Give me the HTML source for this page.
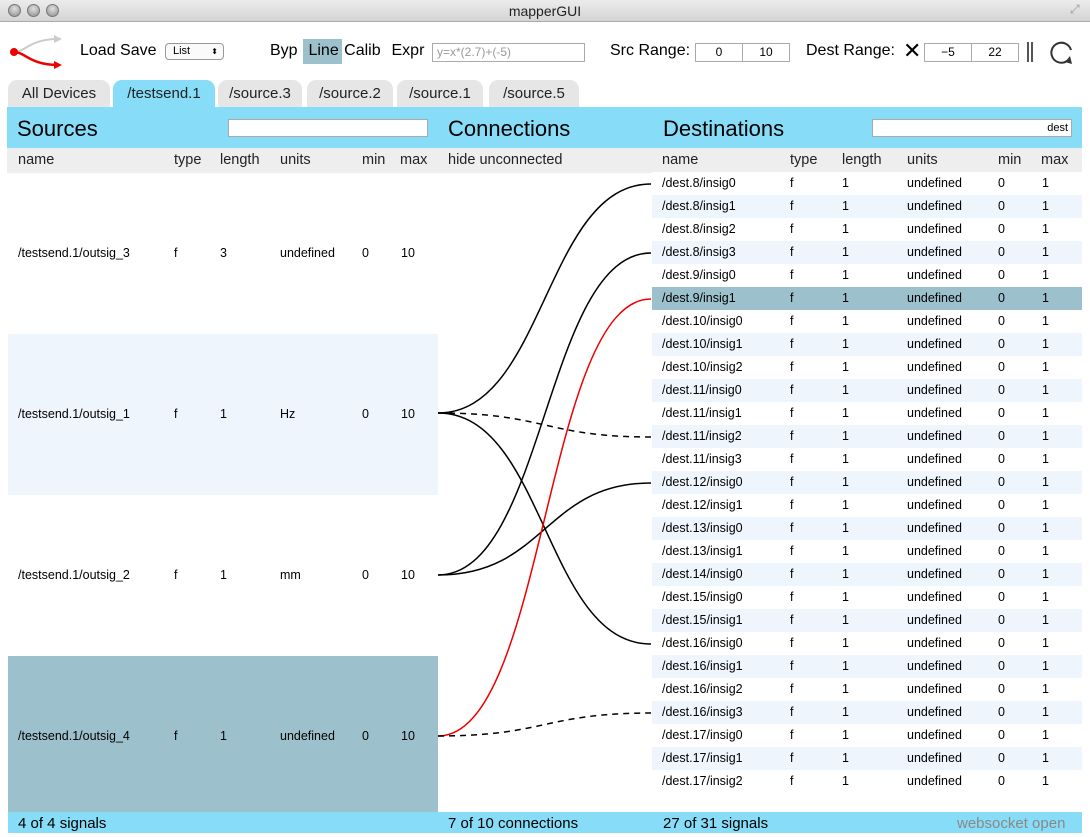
<!DOCTYPE html>
<html><head><meta charset="utf-8"><style>
*{margin:0;padding:0;box-sizing:border-box}
body{width:1090px;height:837px;background:#fff;font-family:"Liberation Sans",sans-serif;position:relative;overflow:hidden;color:#000}
.a{position:absolute;white-space:nowrap}
.tb{left:0;top:0;width:1090px;height:22px;background:linear-gradient(#ececec,#d4d4d4);border-bottom:1px solid #aaa}
.dot{width:13px;height:13px;border-radius:50%;background:radial-gradient(circle at 50% 35%,#e0e0e0,#8c8c8c);border:1px solid #777;top:4px}
.tab{top:80px;height:27px;background:#e6e6e6;border-radius:9px 9px 0 0;font-size:15px;text-align:center;line-height:28px;color:#222}
.inp{border:1px solid #aaa;background:#fff;height:19px;font-size:12px;text-align:center;line-height:17px}
.row{position:absolute;height:23px;font-size:12.5px;line-height:23px}
.row span{position:absolute}
.h{font-size:14.5px;color:#222}
</style></head><body>
<div class="a tb"></div>
<div class="a dot" style="left:8px"></div><div class="a dot" style="left:27px"></div><div class="a dot" style="left:46px"></div>
<div class="a" style="left:0;width:1090px;top:3px;text-align:center;font-size:14px;color:#222">mapperGUI</div>
<div class="a" style="left:1070px;top:2px;font-size:12px;color:#999">⤢</div>

<svg class="a" style="left:10px;top:34px" width="52" height="36">
<path d="M4 18 C15 18 20 5 48 5" stroke="#ccc" stroke-width="2" fill="none"/><path d="M44 1 L52 5 L44 9Z" fill="#ccc"/>
<path d="M4 18 C15 18 20 31 48 31" stroke="#e00" stroke-width="2.5" fill="none"/><path d="M44 27 L52 31 L44 35Z" fill="#e00"/>
<circle cx="4" cy="18" r="4" fill="#e00"/></svg>
<div class="a" style="left:80px;top:42px;font-size:16px">Load Save</div>
<div class="a" style="left:165px;top:43px;width:59px;height:17px;border:1px solid #999;border-radius:4px;font-size:11px;line-height:15px;padding-left:7px;background:#fafafa">List<span style="position:absolute;right:5px;font-size:8px">⬍</span></div>
<div class="a" style="left:303px;top:39px;width:39px;height:25px;background:#9dc1cc"></div>
<div class="a" style="left:270px;top:42px;font-size:16px;word-spacing:1px">Byp&nbsp; Line&nbsp;Calib&nbsp; Expr</div>
<div class="a inp" style="left:432px;top:43px;width:153px;text-align:left;padding-left:4px;color:#999">y=x*(2.7)+(-5)</div>
<div class="a" style="left:610px;top:42px;font-size:16px">Src Range:</div>
<div class="a inp" style="left:695px;top:43px;width:48px">0</div><div class="a inp" style="left:742px;top:43px;width:48px">10</div>
<div class="a" style="left:806px;top:42px;font-size:16px">Dest Range:</div>
<div class="a" style="left:903px;top:38px;font-size:22px;font-weight:300">✕</div>
<div class="a inp" style="left:924px;top:43px;width:48px">−5</div><div class="a inp" style="left:971px;top:43px;width:48px">22</div>
<div class="a" style="left:1027px;top:42px;width:6px;height:20px;border-left:2px solid #555;border-right:2px solid #555"></div>
<svg class="a" style="left:1050px;top:40px" width="26" height="26"><path d="M17 21 A10 10 0 1 1 21 10" stroke="#333" stroke-width="2" fill="none"/><path d="M20 16 L22 24 L15 22Z" fill="#333"/></svg>

<div class="a tab" style="left:8px;width:102px">All Devices</div>
<div class="a tab" style="left:113px;width:102px;background:#87ddf7">/testsend.1</div>
<div class="a tab" style="left:218px;width:84px">/source.3</div>
<div class="a tab" style="left:307px;width:86px">/source.2</div>
<div class="a tab" style="left:397px;width:86px">/source.1</div>
<div class="a tab" style="left:489px;width:90px">/source.5</div>

<div class="a" style="left:7px;top:107px;width:1075px;height:41px;background:#87ddf7"></div>
<div class="a" style="left:17px;top:116px;font-size:22px">Sources</div>
<div class="a" style="left:228px;top:119px;width:200px;height:18px;background:#fff;border:1px solid #aaa"></div>
<div class="a" style="left:448px;top:116px;font-size:22px">Connections</div>
<div class="a" style="left:663px;top:116px;font-size:22px">Destinations</div>
<div class="a" style="left:872px;top:119px;width:200px;height:18px;background:#fff;border:1px solid #aaa;font-size:11px;text-align:right;padding-right:3px;line-height:16px">dest</div>

<div class="a" style="left:7px;top:148px;width:1075px;height:25px;background:#eee"></div>
<div class="a h" style="left:18px;top:152px">name</div><div class="a h" style="left:174px;top:152px">type</div><div class="a h" style="left:220px;top:152px">length</div><div class="a h" style="left:280px;top:152px">units</div><div class="a h" style="left:362px;top:152px">min</div><div class="a h" style="left:400px;top:152px">max</div>
<div class="a h" style="left:448px;top:152px">hide unconnected</div>
<div class="a h" style="left:662px;top:152px">name</div><div class="a h" style="left:790px;top:152px">type</div><div class="a h" style="left:842px;top:152px">length</div><div class="a h" style="left:907px;top:152px">units</div><div class="a h" style="left:998px;top:152px">min</div><div class="a h" style="left:1041px;top:152px">max</div>

<div class="a" style="left:8px;top:334px;width:430px;height:161px;background:#eef5fd"></div>
<div class="a" style="left:8px;top:656px;width:430px;height:156px;background:#9dc1cc"></div>
<div class="row" style="left:0;top:242px;width:440px"><span style="left:18px">/testsend.1/outsig_3</span><span style="left:174px">f</span><span style="left:220px">3</span><span style="left:280px">undefined</span><span style="left:362px">0</span><span style="left:401px">10</span></div>
<div class="row" style="left:0;top:403px;width:440px"><span style="left:18px">/testsend.1/outsig_1</span><span style="left:174px">f</span><span style="left:220px">1</span><span style="left:280px">Hz</span><span style="left:362px">0</span><span style="left:401px">10</span></div>
<div class="row" style="left:0;top:564px;width:440px"><span style="left:18px">/testsend.1/outsig_2</span><span style="left:174px">f</span><span style="left:220px">1</span><span style="left:280px">mm</span><span style="left:362px">0</span><span style="left:401px">10</span></div>
<div class="row" style="left:0;top:725px;width:440px"><span style="left:18px">/testsend.1/outsig_4</span><span style="left:174px">f</span><span style="left:220px">1</span><span style="left:280px">undefined</span><span style="left:362px">0</span><span style="left:401px">10</span></div>

<div id="d"></div>
<script>
var n=["/dest.8/insig0","/dest.8/insig1","/dest.8/insig2","/dest.8/insig3","/dest.9/insig0","/dest.9/insig1","/dest.10/insig0","/dest.10/insig1","/dest.10/insig2","/dest.11/insig0","/dest.11/insig1","/dest.11/insig2","/dest.11/insig3","/dest.12/insig0","/dest.12/insig1","/dest.13/insig0","/dest.13/insig1","/dest.14/insig0","/dest.15/insig0","/dest.15/insig1","/dest.16/insig0","/dest.16/insig1","/dest.16/insig2","/dest.16/insig3","/dest.17/insig0","/dest.17/insig1","/dest.17/insig2"];
var h="";n.forEach(function(s,i){var bg=i==5?"#9dc1cc":(i%2?"#eef5fd":"#fff");
h+='<div class="row" style="left:652px;width:430px;top:'+(172+i*23)+'px;background:'+bg+'"><span style="left:10px">'+s+'</span><span style="left:138px">f</span><span style="left:190px">1</span><span style="left:255px">undefined</span><span style="left:346px">0</span><span style="left:390px">1</span></div>';});
document.getElementById("d").innerHTML=h;
</script>

<svg class="a" style="left:0;top:0" width="1090" height="837" fill="none" stroke-width="1.5">
<path d="M438 413 C545 413 545 184 651 184" stroke="#000"/>
<path d="M438 413 C545 413 545 644 651 644" stroke="#000"/>
<path d="M438 413 C545 413 545 437 651 437" stroke="#000" stroke-dasharray="6,5"/>
<path d="M438 575 C545 575 545 253 651 253" stroke="#000"/>
<path d="M438 575 C545 575 545 483 651 483" stroke="#000"/>
<path d="M438 736 C545 736 545 299 651 299" stroke="#e00"/>
<path d="M438 736 C545 736 545 713 651 713" stroke="#000" stroke-dasharray="6,5"/>
</svg>

<div class="a" style="left:8px;top:812px;width:1074px;height:21px;background:#87ddf7"></div>
<div class="a" style="left:18px;top:815px;font-size:15px">4 of 4 signals</div>
<div class="a" style="left:448px;top:815px;font-size:15px">7 of 10 connections</div>
<div class="a" style="left:663px;top:815px;font-size:15px">27 of 31 signals</div>
<div class="a" style="left:957px;top:815px;font-size:15px;color:#888">websocket open</div>
</body></html>
